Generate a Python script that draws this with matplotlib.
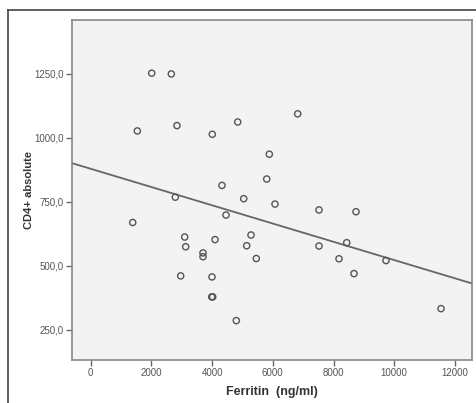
import matplotlib.pyplot as plt
from matplotlib.lines import Line2D
from matplotlib.ticker import FuncFormatter
import numpy as np

# values
ferritin = [2010, 2656, 1536, 2843, 4007, 4843, 6820, 5885, 5799, 4326,
            2788, 5041, 6072, 7522, 8741, 4458, 1384, 3097, 3130, 4096,
            3700, 3700, 5282, 5140, 5456, 7522, 8435, 8181, 9730, 8675,
            11542, 2965, 3997, 3987, 4020, 4798]
cd4 = [1253, 1250, 1027, 1048, 1014, 1062, 1094, 936, 839, 814,
       768, 762, 741, 718, 711, 698, 669, 612, 574, 602,
       550, 535, 620, 578, 528, 577, 590, 527, 520, 469,
       332, 460, 456, 378, 378, 285]

# linear fit line as drawn in the reference
fit_intercept = 879.0
fit_slope = -0.0357

x_ticks = [0, 2000, 4000, 6000, 8000, 10000, 12000]
y_ticks = [250, 500, 750, 1000, 1250]
x_lim = (-616, 12563)
y_lim = (133, 1461)

fig = plt.figure(figsize=(4.77, 4.03), dpi=100)
plt.rcParams['font.family'] = ['Liberation Sans', 'DejaVu Sans']

# outer frame (left and top edges only visible)
fig.add_artist(Line2D([8/477, 8/477], [0, 1 - 10/403], transform=fig.transFigure,
                      color='#444444', lw=1.2))
fig.add_artist(Line2D([8/477, 1], [1 - 10/403, 1 - 10/403], transform=fig.transFigure,
                      color='#444444', lw=1.2))

ax = fig.add_axes([72/477, 1 - 359.5/403, 400/477, 339.5/403])
ax.set_facecolor('#f3f3f3')

ax.scatter(ferritin, cd4, s=20, facecolors='none', edgecolors='#555555', linewidths=1.0, zorder=3)

xs = np.array(x_lim)
ax.plot(xs, fit_intercept + fit_slope * xs, color='#666666', lw=1.3, zorder=2)

ax.set_xlim(*x_lim)
ax.set_ylim(*y_lim)
ax.set_xticks(x_ticks)
ax.set_yticks(y_ticks)
ax.yaxis.set_major_formatter(FuncFormatter(lambda v, p: f'{v:.1f}'.replace('.', ',')))

for s in ax.spines.values():
    s.set_color('#888888')
    s.set_linewidth(1.2)
ax.tick_params(axis='both', direction='out', length=4, width=1, color='#666666',
               labelsize=7, labelcolor='#555555', pad=2)

ax.set_xlabel('Ferritin  (ng/ml)', fontsize=9, fontweight='bold', color='#333333', labelpad=6)
ax.set_ylabel('CD4+ absolute', fontsize=8, fontweight='bold', color='#333333', labelpad=0)

fig.savefig('out.png', dpi=100)
